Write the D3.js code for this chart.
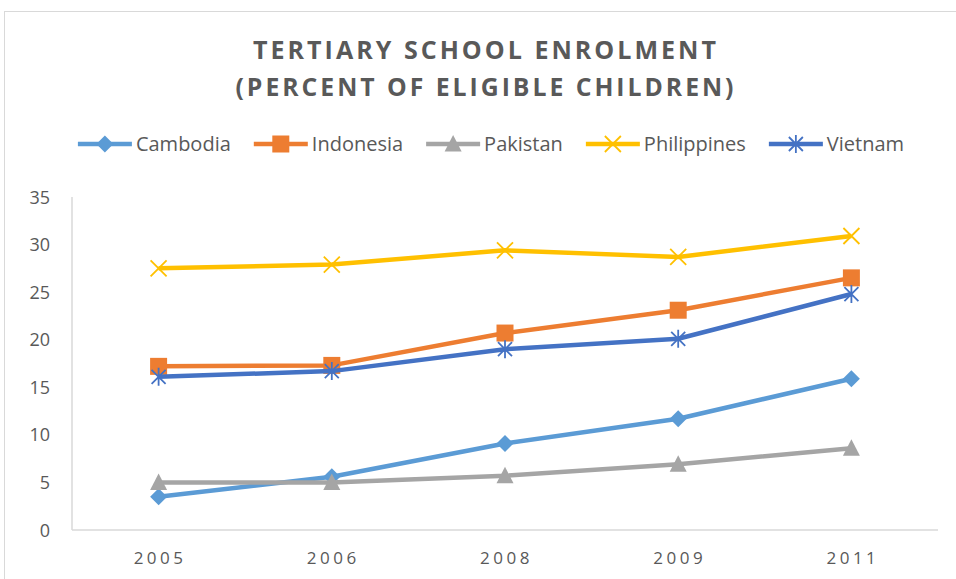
<!DOCTYPE html>
<html>
<head>
<meta charset="utf-8">
<script src="https://cdn.jsdelivr.net/npm/d3@7"></script>
<style>
  body { margin: 0; background: #fff; }
  svg { font-family: "Open Sans", "Noto Sans", sans-serif; }
</style>
</head>
<body>
<svg id="chart" width="956" height="579"></svg>
<script>
// Dữ liệu
const years = ["2005", "2006", "2008", "2009", "2011"];
const countries = ["Cambodia", "Indonesia", "Pakistan", "Philippines", "Vietnam"];
const cambodia    = [3.5, 5.6, 9.1, 11.7, 15.9];
const indonesia   = [17.2, 17.3, 20.7, 23.1, 26.5];
const pakistan    = [5.0, 5.0, 5.7, 6.9, 8.6];
const philippines = [27.5, 27.9, 29.4, 28.7, 30.9];
const vietnam     = [16.1, 16.7, 19.0, 20.1, 24.8];
const yTicks = [0, 5, 10, 15, 20, 25, 30, 35];

const seriesValues = [cambodia, indonesia, pakistan, philippines, vietnam];
const colors = ["#5B9BD5", "#ED7D31", "#A5A5A5", "#FFC000", "#4472C4"];
const markers = ["diamond", "square", "triangle", "x", "star"];

const series = countries.map((c, i) => ({
  name: c,
  color: colors[i],
  marker: markers[i],
  values: years.map((y, j) => ({ year: y, value: seriesValues[i][j] }))
}));

const svg = d3.select("#chart"),
      margin = {top: 197, right: 18, bottom: 49, left: 72},
      width = +svg.attr("width") - margin.left - margin.right,
      height = +svg.attr("height") - margin.top - margin.bottom;

// Khung viền
svg.append("rect")
   .attr("x", 4.5).attr("y", 11.5)
   .attr("width", 1000).attr("height", 1000)
   .attr("fill", "none")
   .attr("stroke", "#d9d9d9");

const g = svg.append("g")
             .attr("transform", `translate(${margin.left},${margin.top})`);

const x = d3.scaleBand().domain(years).range([0, width]);
const y = d3.scaleLinear().domain([0, 35]).range([height, 0]);

// Trục
g.append("line")
 .attr("x1", 0).attr("x2", 0).attr("y1", 0).attr("y2", height)
 .attr("stroke", "#d9d9d9").attr("stroke-width", 1.5);
g.append("line")
 .attr("x1", 0).attr("x2", width).attr("y1", height).attr("y2", height)
 .attr("stroke", "#d9d9d9").attr("stroke-width", 1.5);

g.selectAll("text.ytick")
  .data(yTicks)
  .enter().append("text")
    .attr("class", "ytick")
    .attr("x", -22)
    .attr("y", d => y(d) + 6.5)
    .attr("text-anchor", "end")
    .style("font-size", "18px")
    .style("fill", "#595959")
    .text(d => d);

g.selectAll("text.xtick")
  .data(years)
  .enter().append("text")
    .attr("class", "xtick")
    .attr("x", d => x(d) + x.bandwidth() / 2 + 1.5)
    .attr("y", height + 34)
    .attr("text-anchor", "middle")
    .style("font-size", "17px")
    .style("letter-spacing", "3.5px")
    .style("fill", "#595959")
    .text(d => d);

// Ký hiệu điểm
function markerPath(type) {
  if (type === "diamond") return "M0,-8.5L8.5,0L0,8.5L-8.5,0Z";
  if (type === "square") return "M-8.5,-8.5H8.5V8.5H-8.5Z";
  if (type === "triangle") return "M0,-9L8.5,7.5H-8.5Z";
  if (type === "x") return "M-8,-8L8,8M-8,8L8,-8";
  return "M-7,-7L7,7M-7,7L7,-7M0,-9L0,9";
}

const line = d3.line()
  .x(d => x(d.year) + x.bandwidth() / 2)
  .y(d => y(d.value));

const sg = g.selectAll("g.series")
  .data(series)
  .enter().append("g")
    .attr("class", "series");

sg.append("path")
  .attr("d", d => line(d.values))
  .attr("fill", "none")
  .attr("stroke", d => d.color)
  .attr("stroke-width", 4.5)
  .attr("stroke-linejoin", "round");

sg.each(function(s) {
  d3.select(this).selectAll("path.mk")
    .data(s.values)
    .enter().append("path")
      .attr("class", "mk")
      .attr("transform", d => `translate(${x(d.year) + x.bandwidth() / 2},${y(d.value)})`)
      .attr("d", markerPath(s.marker))
      .attr("fill", (s.marker === "x" || s.marker === "star") ? "none" : s.color)
      .attr("stroke", s.color)
      .attr("stroke-width", (s.marker === "x" || s.marker === "star") ? 1.8 : 0);
});

// Tiêu đề
const title = svg.append("text")
  .attr("text-anchor", "middle")
  .style("font-size", "25px")
  .style("font-weight", "bold")
  .style("fill", "#595959");
title.append("tspan").attr("x", 486).attr("y", 59)
  .attr("textLength", 466).attr("lengthAdjust", "spacingAndGlyphs")
  .style("letter-spacing", "3px")
  .text("TERTIARY SCHOOL ENROLMENT");
title.append("tspan").attr("x", 486).attr("y", 96)
  .attr("textLength", 501).attr("lengthAdjust", "spacingAndGlyphs")
  .style("letter-spacing", "3px")
  .text("(PERCENT OF ELIGIBLE CHILDREN)");

// Chú giải
const legend = svg.append("g");
const items = legend.selectAll("g.item")
  .data(series)
  .enter().append("g")
    .attr("class", "item");

items.append("line")
  .attr("x1", 0).attr("x2", 54).attr("y1", 0).attr("y2", 0)
  .attr("stroke", d => d.color).attr("stroke-width", 4.5);
items.append("path")
  .attr("transform", "translate(27,0)")
  .attr("d", d => markerPath(d.marker))
  .attr("fill", d => (d.marker === "x" || d.marker === "star") ? "none" : d.color)
  .attr("stroke", d => d.color)
  .attr("stroke-width", d => (d.marker === "x" || d.marker === "star") ? 1.8 : 0);
items.append("text")
  .attr("x", 58).attr("y", 7)
  .style("font-size", "20px")
  .style("fill", "#595959")
  .text(d => d.name);

let cx = 0;
items.each(function() {
  const w = this.getBBox().width;
  d3.select(this).attr("transform", `translate(${cx},0)`);
  cx += w + 23;
});
const total = cx - 23;
legend.attr("transform", `translate(${491 - total / 2},144)`);
</script>
</body>
</html>
